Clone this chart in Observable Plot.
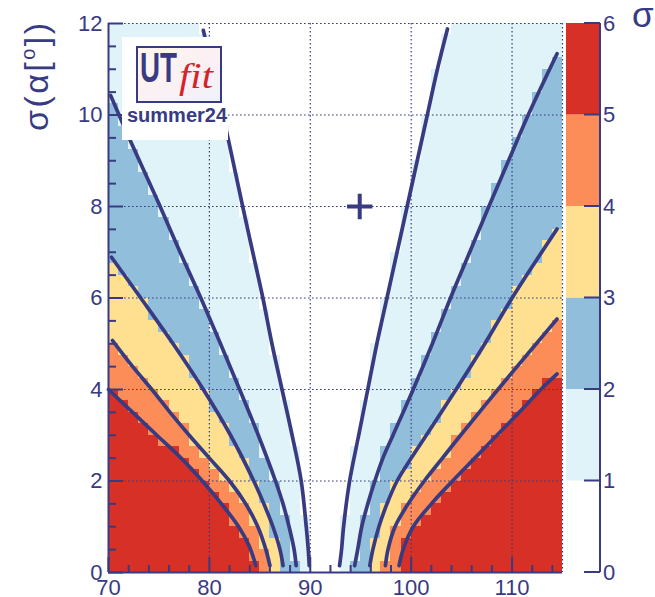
<!DOCTYPE html>
<html>
<head>
<meta charset="utf-8">
<script src="https://cdn.jsdelivr.net/npm/d3@7"></script>
<script src="https://cdn.jsdelivr.net/npm/@observablehq/plot@0.6"></script>
<style>
  html, body { margin: 0; padding: 0; background: #ffffff; }
  #chart { width: 655px; height: 597px; }
</style>
</head>
<body>
<div id="chart"></div>
<script>
// ---- axes ----
const xDomain = [70, 115];
const yDomain = [0, 12];
const xTicks = [70, 80, 90, 100, 110];
const xMinorTicks = [72, 74, 76, 78, 82, 84, 86, 88, 92, 94, 96, 98, 102, 104, 106, 108, 112, 114];
const yTicks = [0, 2, 4, 6, 8, 10, 12];
const yMinorTicks = [0.5, 1, 1.5, 2.5, 3, 3.5, 4.5, 5, 5.5, 6.5, 7, 7.5, 8.5, 9, 9.5, 10.5, 11, 11.5];
const xGrid = [80, 90, 100, 110, 115];
const yGrid = [2, 4, 6, 8, 10, 12];

// ---- significance scale ----
const sigmaTicks = [0, 1, 2, 3, 4, 5, 6];
const sigmaLevels = [1, 2, 3, 4, 5];
const sigmaColors = ["#ffffff", "#e0f3f8", "#91bfdb", "#fee090", "#fc8d59", "#d73027"];

// ---- contours: [alpha (deg), sigma(alpha) (deg)], ordered by sigma(alpha) ----
const leftSigma1 = [[89.9, 0.15], [89.8, 0.5], [89.6, 1.0], [89.1, 2.0], [88.2, 3.0], [87.2, 4.0], [86.2, 5.0], [85.3, 6.0], [84.3, 7.0], [83.3, 8.0], [81.9, 9.44], [79.4, 11.85]];
const leftSigma2 = [[88.6, 0.15], [88.4, 0.5], [87.9, 1.0], [87.3, 1.5], [86.55, 2.0], [84.85, 3.0], [83.0, 4.0], [81.1, 5.0], [79.15, 6.0], [77.1, 7.0], [75.0, 8.06], [72.3, 9.37], [70.2, 10.43]];
const leftSigma3 = [[87.3, 0.15], [87.0, 0.5], [86.3, 1.0], [85.4, 1.5], [84.4, 2.0], [82.1, 3.0], [79.4, 4.0], [76.4, 5.0], [73.2, 6.0], [70.3, 6.89]];
const leftSigma4 = [[86.0, 0.15], [85.6, 0.5], [84.8, 1.0], [83.6, 1.5], [82.0, 2.0], [80.0, 2.5], [78.0, 3.0], [76.1, 3.5], [74.3, 4.0], [72.4, 4.5], [70.4, 5.07]];
const leftSigma5 = [[84.6, 0.15], [84.4, 0.3], [83.9, 0.6], [82.9, 1.0], [81.2, 1.5], [79.3, 2.0], [77.2, 2.5], [74.8, 3.0], [72.4, 3.5], [70.0, 4.0]];

const rightSigma1 = [[92.9, 0.15], [93.1, 0.5], [93.3, 1.0], [93.9, 2.0], [94.8, 3.0], [95.7, 4.0], [96.6, 5.0], [97.6, 6.0], [98.6, 7.0], [99.6, 8.0], [100.6, 9.0], [101.6, 10.0], [102.6, 11.0], [103.6, 11.88]];
const rightSigma2 = [[94.4, 0.15], [94.7, 0.5], [95.1, 1.0], [95.7, 1.5], [96.4, 2.0], [97.2, 2.5], [98.2, 3.0], [100.2, 4.0], [102.1, 5.0], [103.9, 6.0], [105.8, 7.0], [107.7, 8.0], [109.65, 9.0], [111.6, 10.0], [114.46, 11.34]];
const rightSigma3 = [[95.9, 0.15], [96.2, 0.5], [96.8, 1.0], [97.6, 1.5], [98.6, 2.0], [100.0, 2.5], [101.5, 3.0], [104.45, 4.0], [107.3, 5.0], [110.0, 6.0], [114.46, 7.51]];
const rightSigma4 = [[97.45, 0.15], [97.7, 0.5], [98.4, 1.0], [99.7, 1.5], [101.3, 2.0], [103.1, 2.5], [104.9, 3.0], [108.6, 4.0], [112.4, 5.0], [114.46, 5.54]];
const rightSigma5 = [[98.8, 0.15], [99.2, 0.5], [100.2, 1.0], [102.0, 1.5], [104.1, 2.0], [106.3, 2.5], [108.5, 3.0], [110.7, 3.5], [112.85, 4.0], [114.46, 4.34]];

// central value marker
const bestFit = [[94.9, 8.0]];

// ---- layout ----
const W = 655, H = 597;
const mL = 108, mR = 93, mT = 23, mB = 25;
const innerW = W - mL - mR, innerH = H - mT - mB;
const navy = "#383b82";
const font = "'Liberation Sans', Arial, Helvetica, sans-serif";

const contours = [
  {side: "left", level: 1, points: leftSigma1},
  {side: "left", level: 2, points: leftSigma2},
  {side: "left", level: 3, points: leftSigma3},
  {side: "left", level: 4, points: leftSigma4},
  {side: "left", level: 5, points: leftSigma5},
  {side: "right", level: 1, points: rightSigma1},
  {side: "right", level: 2, points: rightSigma2},
  {side: "right", level: 3, points: rightSigma3},
  {side: "right", level: 4, points: rightSigma4},
  {side: "right", level: 5, points: rightSigma5}
];

// contour position at a given sigma(alpha): vertical below the first point,
// straight continuation past the last one
function alphaAt(points, s) {
  const n = points.length;
  if (s <= points[0][1]) return points[0][0];
  for (let i = 1; i < n; i++) {
    if (s <= points[i][1]) {
      const [xa, ya] = points[i - 1], [xb, yb] = points[i];
      return xa + (xb - xa) * (s - ya) / (yb - ya);
    }
  }
  const [xa, ya] = points[n - 2], [xb, yb] = points[n - 1];
  return xb + (xb - xa) * (s - yb) / (yb - ya);
}

function bandAt(a, s) {
  let band = 0;
  for (const c of contours) {
    const edge = alphaAt(c.points, s);
    if (c.side === "left" ? a < edge : a > edge) band = Math.max(band, c.level);
  }
  return band;
}

// histogram binning of the plane: 1 deg in alpha, 0.25 deg in sigma(alpha)
const binA = 1, binS = 0.25;
const cells = [];
for (let a = xDomain[0]; a < xDomain[1]; a += binA) {
  for (let s = yDomain[0]; s < yDomain[1]; s += binS) {
    const band = bandAt(a + binA / 2, s + binS / 2);
    if (band > 0) cells.push({a0: a, a1: a + binA, s0: s, s1: s + binS, band});
  }
}

const lineStyle = {x: d => d[0], y: d => d[1], stroke: navy, strokeWidth: 3.7, curve: "catmull-rom", strokeLinecap: "round"};
const gridStyle = {stroke: navy, strokeOpacity: 1, strokeWidth: 1.2, strokeDasharray: "1.6,2.4"};

const chart = Plot.plot({
  width: W,
  height: H,
  marginLeft: mL,
  marginRight: mR,
  marginTop: mT,
  marginBottom: mB,
  x: {domain: xDomain},
  y: {domain: yDomain},
  color: {type: "ordinal", domain: sigmaLevels, range: sigmaColors.slice(1)},
  style: {fontFamily: font, fontSize: "22px", color: navy, background: "#ffffff", overflow: "visible"},
  marks: [
    Plot.rect(cells, {x1: "a0", x2: "a1", y1: "s0", y2: "s1", fill: "band", shapeRendering: "crispEdges"}),
    Plot.gridX(xGrid, gridStyle),
    Plot.gridY(yGrid, gridStyle),
    ...contours.map(c => Plot.line(c.points, lineStyle)),
    Plot.dot(bestFit, {x: d => d[0], y: d => d[1], symbol: "plus", r: 8.2, stroke: navy, strokeWidth: 4}),
    Plot.tickX(xMinorTicks, {x: d => d, stroke: navy, strokeWidth: 2, insetTop: innerH - 7}),
    Plot.tickX(xTicks, {x: d => d, stroke: navy, strokeWidth: 2, insetTop: innerH - 15}),
    Plot.tickY(yMinorTicks, {y: d => d, stroke: navy, strokeWidth: 2, insetRight: innerW - 8}),
    Plot.tickY(yTicks, {y: d => d, stroke: navy, strokeWidth: 2, insetRight: innerW - 15}),
    Plot.ruleX([xDomain[0]], {stroke: navy, strokeWidth: 2}),
    Plot.ruleY([yDomain[0]], {stroke: navy, strokeWidth: 2}),
    Plot.axisX({ticks: xTicks, tickSize: 0, tickPadding: 7, label: null, fontSize: 22}),
    Plot.axisY({ticks: yTicks, tickSize: 0, tickPadding: 6, label: null, fontSize: 22})
  ]
});

document.getElementById("chart").appendChild(chart);

const svg = d3.select(chart);
const yScale = chart.scale("y");

// ---- colour bar ----
const sigmaScale = d3.scaleLinear([0, 6], [yScale.apply(yDomain[0]), yScale.apply(yDomain[1])]);
const barLeft = W - mR + 4, barRight = barLeft + 33;
const bar = svg.append("g")
  .attr("font-family", font).attr("font-size", 22).attr("fill", navy).attr("text-anchor", "start");
sigmaColors.forEach((c, i) => {
  bar.append("rect")
    .attr("x", barLeft).attr("width", barRight - barLeft)
    .attr("y", sigmaScale(i + 1)).attr("height", sigmaScale(i) - sigmaScale(i + 1))
    .attr("fill", c);
});
bar.append("line")
  .attr("x1", barRight + 1).attr("x2", barRight + 1)
  .attr("y1", sigmaScale(0)).attr("y2", sigmaScale(6))
  .attr("stroke", navy).attr("stroke-width", 2);
sigmaTicks.forEach(t => {
  bar.append("line")
    .attr("x1", barRight + 1 - 16).attr("x2", barRight + 1)
    .attr("y1", sigmaScale(t)).attr("y2", sigmaScale(t))
    .attr("stroke", navy).attr("stroke-width", 2);
  bar.append("text")
    .attr("x", barRight + 4).attr("y", sigmaScale(t)).attr("dy", "0.36em")
    .text(t);
});
svg.append("text")
  .attr("x", 632).attr("y", 27).attr("text-anchor", "start")
  .attr("font-family", font).attr("font-size", 35).attr("fill", navy)
  .text("σ");

// ---- y-axis title ----
const yTitle = svg.append("text")
  .attr("transform", `translate(48,${mT}) rotate(-90)`)
  .attr("text-anchor", "end")
  .attr("font-family", font).attr("font-size", 34).attr("fill", navy)
  .attr("textLength", 108).attr("lengthAdjust", "spacing");
yTitle.append("tspan").text("σ(α[");
yTitle.append("tspan").attr("font-size", 20).attr("dy", -13).text("o");
yTitle.append("tspan").attr("dy", 13).text("])");

// ---- UTfit badge ----
const defs = svg.append("defs");
const grad = defs.append("linearGradient").attr("id", "badgeBg").attr("x1", 0).attr("y1", 0).attr("x2", 1).attr("y2", 1);
grad.append("stop").attr("offset", "0%").attr("stop-color", "#fff6ec");
grad.append("stop").attr("offset", "55%").attr("stop-color", "#fbf0f4");
grad.append("stop").attr("offset", "100%").attr("stop-color", "#eef2fb");

const badge = svg.append("g").attr("font-family", font).attr("text-anchor", "start");
badge.append("rect").attr("x", 122).attr("y", 37).attr("width", 106).attr("height", 103).attr("fill", "#ffffff");
badge.append("rect").attr("x", 137).attr("y", 47).attr("width", 84).attr("height", 55)
  .attr("fill", "url(#badgeBg)").attr("stroke", navy).attr("stroke-width", 2);
badge.append("text").attr("x", 140).attr("y", 82)
  .attr("font-size", 43).attr("font-weight", "bold").attr("fill", navy)
  .attr("textLength", 37).attr("lengthAdjust", "spacingAndGlyphs").text("UT");
badge.append("text").attr("x", 179).attr("y", 88)
  .attr("font-family", "'Liberation Serif', 'Times New Roman', serif")
  .attr("font-style", "italic").attr("font-size", 36).attr("fill", "#d6232a")
  .attr("textLength", 34).attr("lengthAdjust", "spacingAndGlyphs").text("fit");
badge.append("text").attr("x", 127).attr("y", 122)
  .attr("font-size", 20).attr("font-weight", "bold").attr("fill", navy)
  .text("summer24");
</script>
</body>
</html>
